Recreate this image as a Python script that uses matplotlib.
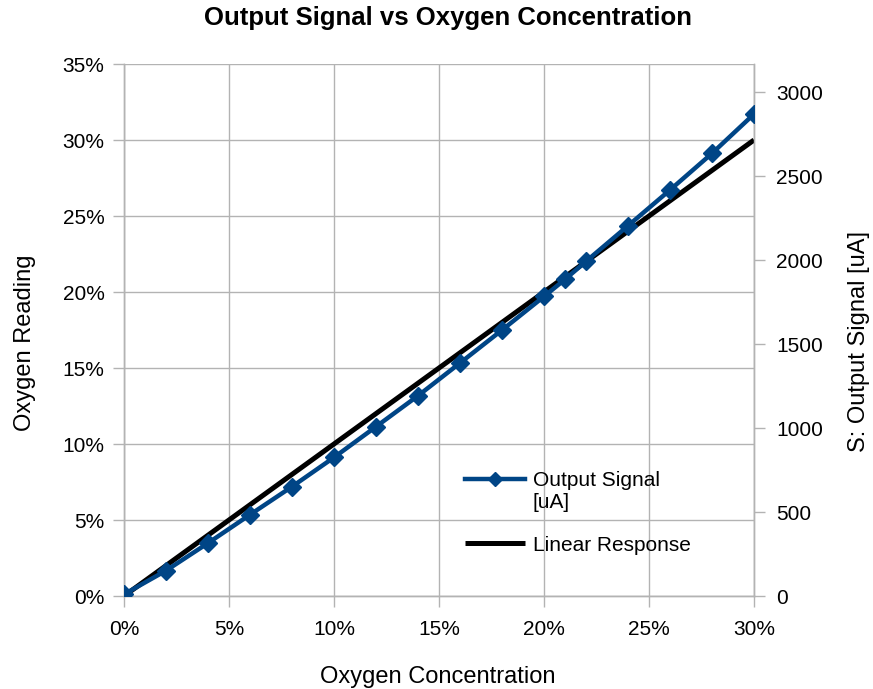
import matplotlib
matplotlib.use("Agg")
import matplotlib.pyplot as plt
from matplotlib.ticker import PercentFormatter, MultipleLocator
from matplotlib.legend_handler import HandlerLine2D

plt.rcParams['font.family'] = ['Liberation Sans', 'DejaVu Sans']

# 数据：氧浓度 (%) 与输出信号 (uA)
concentration = [0, 2, 4, 6, 8, 10, 12, 14, 16, 18, 20, 21, 22, 24, 26, 28, 30]
output_signal = [10, 151, 315, 484, 651, 825, 1008, 1192, 1387, 1583, 1783,
                 1885, 1992, 2204, 2417, 2635, 2869]
linear_x = [0, 30]
linear_reading = [0, 30]

GRID = '#b3b3b3'
BLUE = '#004586'
TICK_FS = 15
LABEL_FS = 17


class FirstLineHandler(HandlerLine2D):
    """图例句柄与多行标签的第一行对齐，并缩小标记。"""

    def __init__(self, shift=0.0, msize=7, **kw):
        super().__init__(**kw)
        self.shift = shift
        self.msize = msize

    def create_artists(self, legend, orig_handle, xdescent, ydescent,
                       width, height, fontsize, trans):
        arts = super().create_artists(legend, orig_handle, xdescent, ydescent,
                                      width, height, fontsize, trans)
        for a in arts:
            a.set_ydata([y + self.shift for y in a.get_ydata()])
            a.set_markersize(self.msize)
        return arts


fig = plt.figure(figsize=(8.73, 6.89), dpi=100)
ax = fig.add_axes([124 / 873, 1 - 596 / 689, 630 / 873, 532 / 689])
ax2 = ax.twinx()

# 线性响应（左轴）
l_lin, = ax.plot(linear_x, linear_reading, color='black', lw=3.6,
                 solid_capstyle='butt', label='Linear Response', zorder=3)
# 输出信号（右轴）
l_sig, = ax2.plot(concentration, output_signal, color=BLUE, lw=3.2,
                  marker='D', markersize=9, label='Output Signal\n[uA]', zorder=4)

ax.set_xlim(0, 30)
ax.set_ylim(0, 35)
ax2.set_ylim(0, 3167)

ax.xaxis.set_major_locator(MultipleLocator(5))
ax.yaxis.set_major_locator(MultipleLocator(5))
ax.xaxis.set_major_formatter(PercentFormatter(decimals=0))
ax.yaxis.set_major_formatter(PercentFormatter(decimals=0))
ax2.set_yticks(range(0, 3001, 500))

ax.grid(True, color=GRID, lw=1.0)
ax.set_axisbelow(True)

for a in (ax, ax2):
    for s in a.spines.values():
        s.set_color(GRID)
        s.set_linewidth(1.0)
    a.tick_params(colors=GRID, length=8, width=1.0, labelcolor='black',
                  labelsize=TICK_FS, pad=6)
ax.tick_params(axis='x', pad=9)
ax2.tick_params(axis='y', pad=8)
ax2.spines['top'].set_visible(False)
ax.spines['top'].set_visible(False)

ax.set_xlabel('Oxygen Concentration', fontsize=LABEL_FS)
ax.set_ylabel('Oxygen Reading', fontsize=LABEL_FS)
ax2.set_ylabel('S: Output Signal [uA]', fontsize=LABEL_FS)
ax.xaxis.set_label_coords(0.498, -0.131)
ax.yaxis.set_label_coords(-0.139, 0.4765)
ax2.yaxis.set_label_coords(1.149, 0.478)

fig.suptitle('Output Signal vs Oxygen Concentration', fontsize=18.5,
             fontweight='bold', x=0.513, y=0.991)

ax2.legend(handles=[l_sig, l_lin], loc='upper left',
           bbox_to_anchor=(0.541, 0.235), frameon=False, fontsize=TICK_FS,
           handlelength=2.9, handletextpad=0.35, labelspacing=1.14,
           borderpad=0, borderaxespad=0,
           handler_map={l_sig: FirstLineHandler(shift=9.0, msize=7),
                        l_lin: FirstLineHandler(shift=0.0, msize=0)})

fig.savefig('out.png', dpi=100)
